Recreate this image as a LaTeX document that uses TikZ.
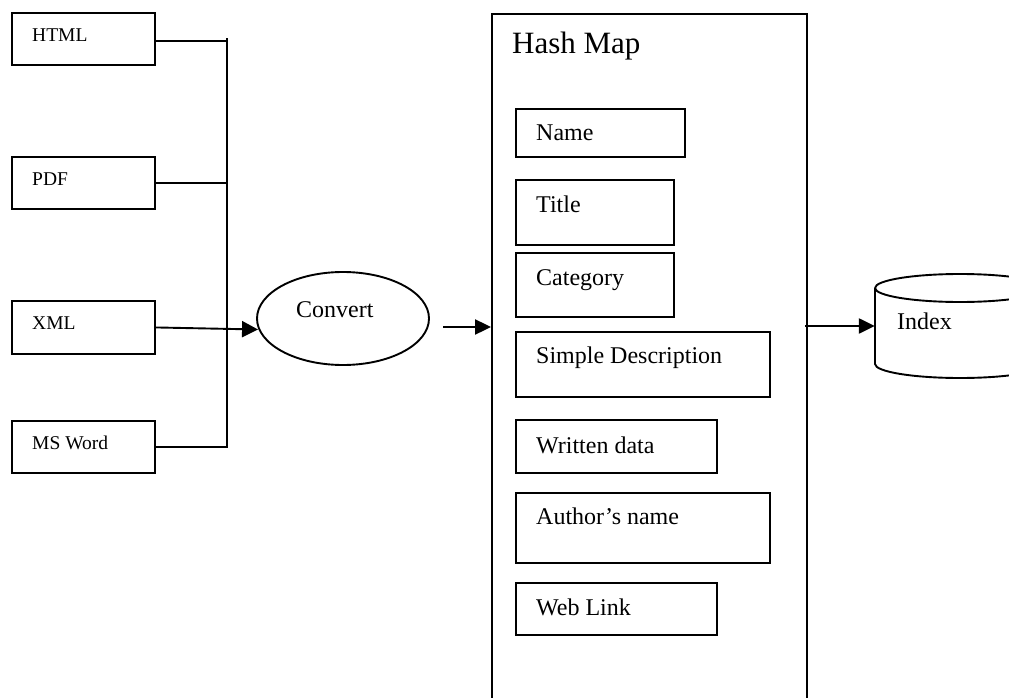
\documentclass[tikz,border=0pt]{standalone}
\usepackage{fontspec}
\setmainfont{Liberation Serif}
\usetikzlibrary{shapes.geometric,arrows.meta,calc}
\begin{document}
\begin{tikzpicture}[x=1pt,y=-1pt,
  box/.style={draw,line width=1.9pt,rectangle,inner sep=0pt,anchor=north west},
  lbl/.style={anchor=base west,inner sep=0pt},
  small/.style={lbl,font=\fontsize{19.5}{23}\selectfont},
  mid/.style={lbl,font=\fontsize{24}{28}\selectfont},
  big/.style={lbl,font=\fontsize{31}{36}\selectfont},
  conn/.style={line width=1.9pt},
  arr/.style={line width=1.9pt,-{Triangle[length=16pt,width=16pt]}},
  arrb/.style={line width=2.4pt,-{Triangle[length=16pt,width=15pt]}}]
\useasboundingbox (0,0) rectangle (1009,698);
\clip (0,0) rectangle (1009,698);
% left source boxes
\node[box,minimum width=143pt,minimum height=52pt] (html) at (11,12) {};
\node[box,minimum width=143pt,minimum height=52pt] (pdf) at (11,156) {};
\node[box,minimum width=143pt,minimum height=53pt] (xml) at (11,300) {};
\node[box,minimum width=143pt,minimum height=52pt] (msword) at (11,420) {};
\node[small] (thtml) at (32,42) {HTML};
\node[small] (tpdf) at (32,185) {PDF};
\node[small] (txml) at (32,329) {XML};
\node[small] (tmsword) at (32,449) {MS Word};
% bus
\coordinate (bustop) at (227,38);
\draw[conn] ([yshift=-2.5pt]html.east) -- ([yshift=-2.5pt]html.east -| bustop);
\draw[conn] (pdf.east) -- (pdf.east -| bustop);
\draw[conn] (msword.east) -| (bustop);
% convert
\node[draw,ellipse,line width=1.9pt,minimum width=172pt,minimum height=93pt,inner sep=0pt] (convert) at (343,318.5) {};
\node[mid] (tconvert) at (296,317) {Convert};
\draw[arr] (xml.east) -- ([yshift=-11pt,xshift=2pt]convert.west);
% hash map
\node[box,minimum width=315pt,minimum height=700pt] (hm) at (491,13) {};
\node[big] (thm) at (512,54) {Hash Map};
\coordinate (c1) at (443,327);
\draw[arrb] (c1) -- (c1 -| hm.west);
% fields
\node[box,minimum width=169pt,minimum height=48pt] (name) at (515,108) {};
\node[mid] (tname) at (536,140) {Name};
\node[box,minimum width=158pt,minimum height=65pt] (title) at (515,179) {};
\node[mid] (ttitle) at (536,212.5) {Title};
\node[box,minimum width=158pt,minimum height=64pt] (cat) at (515,252) {};
\node[mid] (tcat) at (536,285) {Category};
\node[box,minimum width=254pt,minimum height=65pt] (desc) at (515,331) {};
\node[mid] (tdesc) at (536,363) {Simple Description};
\node[box,minimum width=201pt,minimum height=53pt] (written) at (515,419) {};
\node[mid] (twritten) at (536,453.5) {Written data};
\node[box,minimum width=254pt,minimum height=70pt] (author) at (515,492) {};
\node[mid] (tauthor) at (536,524) {Author’s name};
\node[box,minimum width=201pt,minimum height=52pt] (web) at (515,582) {};
\node[mid] (tweb) at (536,615) {Web Link};
% index cylinder
\node[minimum width=170pt,minimum height=80pt,inner sep=0pt] (index) at (960,326) {};
\draw[line width=1.9pt] (875,288) arc[start angle=180,end angle=-180,x radius=85,y radius=-14];
\draw[line width=1.9pt] (875,288) -- (875,364) arc[start angle=180,end angle=360,x radius=85,y radius=-14] -- (1045,288);
\node[mid] (tindex) at (897,329.5) {Index};
\draw[arrb] ([xshift=-3pt]index.west -| hm.east) -- (index.west);
\end{tikzpicture}
\end{document}
